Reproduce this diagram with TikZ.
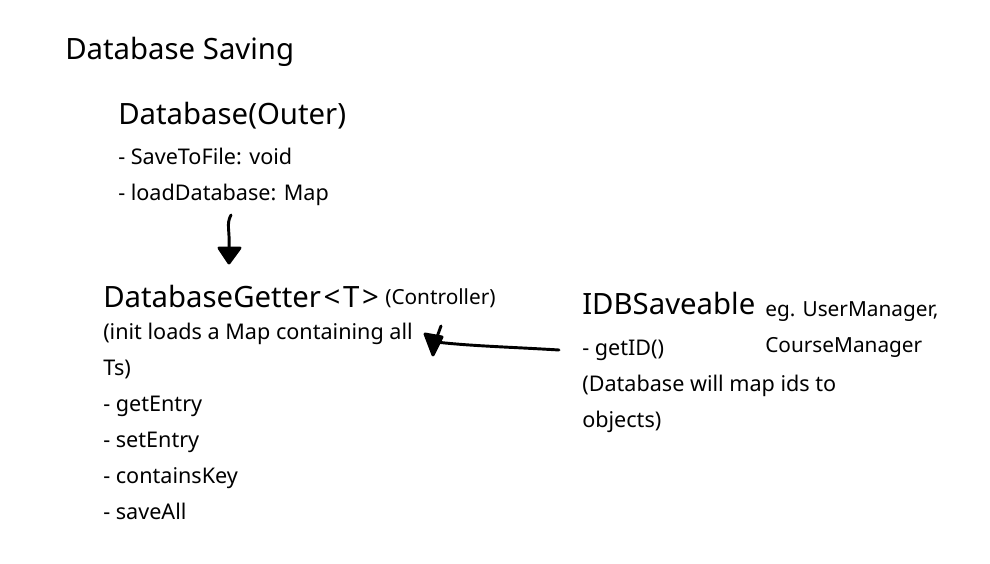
\documentclass[tikz,border=0pt]{standalone}
\usepackage{fontspec}
\setmainfont{Noto Sans}
\begin{document}
\begin{tikzpicture}[x=0.75pt,y=-0.75pt,
  big/.style={anchor=base west,inner sep=0pt,font=\fontsize{22}{26}\selectfont},
  txt/.style={anchor=base west,inner sep=0pt,font=\fontsize{16.2}{19}\selectfont},
  small/.style={anchor=base west,inner sep=0pt,font=\fontsize{15.6}{19}\selectfont},
  pen/.style={line width=2.2pt,line cap=round,line join=round}]
\useasboundingbox (0,0) rectangle (990,564);
\node[big] (title) at (65,60) {Database Saving};
\node[big] (outer) at (118,124) {Database(Outer)};
\node[txt] (o1) at (118,164) {- SaveToFile: void};
\node[txt] (o2) at (118,200) {- loadDatabase: Map};
\node[big] (getter) at (103,307) {DatabaseGetter\kern2pt<\kern2pt T\kern2pt>};
\node[small] (ctrl) at (385,304) {(Controller)};
\node[txt] (g1) at (103,339) {(init loads a Map containing all};
\node[txt] (g2) at (103,375) {Ts)};
\node[txt] (g3) at (103,411) {- getEntry};
\node[txt] (g4) at (103,447) {- setEntry};
\node[txt] (g5) at (103,483) {- containsKey};
\node[txt] (g6) at (103,519) {- saveAll};
\node[big] (idb) at (582,314) {IDBSaveable};
\node[small] (eg1) at (765,316) {eg. UserManager,};
\node[small] (eg2) at (765,352) {CourseManager};
\node[txt] (i1) at (582,355) {- getID()};
\node[txt] (i2) at (582,391) {(Database will map ids to};
\node[txt] (i3) at (582,427) {objects)};
% arrow 1
\coordinate (a1s) at (231,215);
\coordinate (a1e) at (229,248);
\draw[pen] (a1s) .. controls (226,224) and (230,230) .. (a1e);
\fill[pen,draw] (219,248) -- (240,248) -- (229,263) -- cycle;
% arrow 2
\coordinate (a2s) at (559,350);
\coordinate (a2e) at (436,342);
\draw[pen] (a2s) .. controls (510,347) and (470,346) .. (a2e);
\fill[pen,draw] (425,334) -- (442,337) -- (433,355) -- cycle;
\draw[pen] (437,337) -- (441,326);
\end{tikzpicture}
\end{document}
